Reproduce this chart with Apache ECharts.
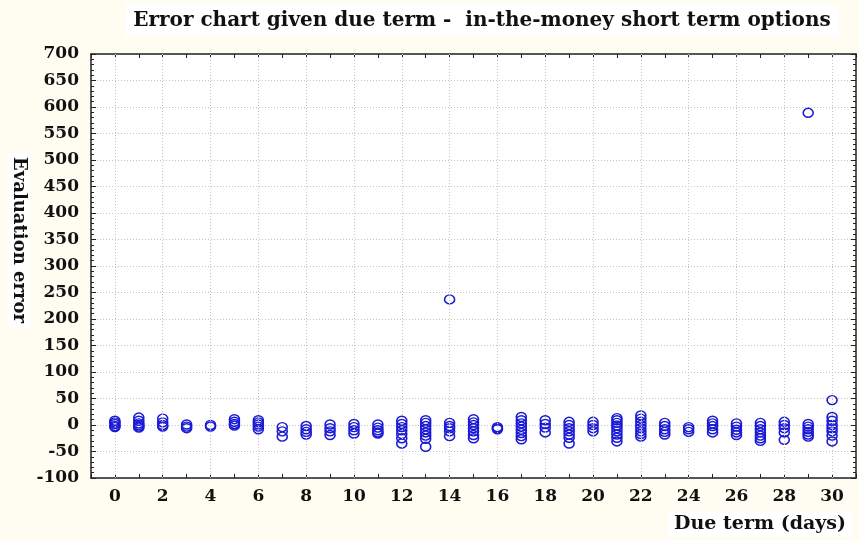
<!DOCTYPE html>
<html>
<head>
<meta charset="utf-8">
<script src="https://cdn.jsdelivr.net/npm/echarts@6/dist/echarts.min.js"></script>
<style>
html,body{margin:0;padding:0;background:#fffcf2;}
#chart{width:859px;height:540px;}
</style>
</head>
<body>
<div id="chart"></div>
<script>
var titleText = 'Error chart given due term -  in-the-money short term options';
var xName = 'Due term (days)';
var yName = 'Evaluation error';
var days = [0,1,2,3,4,5,6,7,8,9,10,11,12,13,14,15,16,17,18,19,20,21,22,23,24,25,26,27,28,29,30];
var errorsByDay = [
  [8, 5, 2, -2, -4],
  [14, 8, 3, 0, -3, -5],
  [12, 5, 0, -3],
  [1, -3, -6],
  [0, -3],
  [11, 6, 2, -1],
  [9, 5, 1, -3, -8],
  [-4, -12, -22],
  [-2, -8, -13, -18],
  [1, -6, -12, -19],
  [2, -4, -10, -16],
  [1, -5, -10, -14, -16],
  [8, 2, -4, -10, -17, -25, -35],
  [9, 4, -2, -8, -14, -20, -26, -41],
  [237, 4, -2, -6, -12, -21],
  [11, 5, 0, -6, -12, -19, -25],
  [-4, -6, -8],
  [15, 9, 3, -3, -9, -15, -21, -27],
  [9, 2, -5, -14],
  [6, 0, -6, -12, -18, -24, -35],
  [6, 0, -6, -12],
  [13, 9, 4, -1, -6, -12, -18, -24, -31],
  [18, 12, 6, 0, -6, -12, -17, -22],
  [4, -2, -8, -13, -18],
  [-4, -8, -13],
  [8, 3, -2, -8, -14],
  [3, -3, -9, -14, -19],
  [4, -2, -8, -14, -20, -25, -30],
  [6, 0, -6, -14, -28],
  [589, 2, -3, -8, -13, -18, -22],
  [47, 15, 8, 0, -6, -12, -20, -31]
];
var xGridDays = [0,2,4,6,8,10,12,14,16,18,20,22,24,26,28,30];

var points = [];
days.forEach(function(d, i){
  errorsByDay[i].forEach(function(v){ points.push([d, v]); });
});

var serif = 'DejaVu Serif';
var chart = echarts.init(document.getElementById('chart'), null, {renderer:'canvas'});
var axisLineStyle = {color:'#222', width:1.5};
chart.setOption({
  backgroundColor:'#fffcf2',
  animation:false,
  title:{
    text:titleText,
    left:474, top:5, textAlign:'center',
    backgroundColor:'#ffffff',
    padding:[6,8,6,8],
    textStyle:{fontFamily:serif, fontWeight:'bold', fontSize:20, color:'#111'}
  },
  grid:{left:91, right:1, top:54, bottom:62, show:true, backgroundColor:'#ffffff', borderWidth:0},
  xAxis:[{
    type:'value', min:-1, max:31, interval:1,
    axisLine:{show:true, onZero:false, lineStyle:axisLineStyle},
    axisTick:{show:true, inside:true, length:4, lineStyle:{color:'#222'}},
    axisLabel:{
      margin:10, color:'#111', fontFamily:serif, fontWeight:'bold', fontSize:17,
      formatter:function(v){ return (v>=0 && v<=30 && v%2===0) ? String(v) : ''; }
    },
    splitLine:{show:false}
  },{
    type:'value', position:'top', min:-1, max:31, interval:1,
    axisLine:{show:true, onZero:false, lineStyle:axisLineStyle},
    axisTick:{show:true, inside:true, length:4, lineStyle:{color:'#222'}},
    axisLabel:{show:false}, splitLine:{show:false}
  }],
  yAxis:[{
    type:'value', min:-100, max:700, interval:50,
    axisLine:{show:true, onZero:false, lineStyle:axisLineStyle},
    axisTick:{show:true, inside:true, length:5, lineStyle:{color:'#222'}},
    minorTick:{show:true, splitNumber:5, length:3, lineStyle:{color:'#222'}},
    axisLabel:{margin:12, color:'#111', fontFamily:serif, fontWeight:'bold', fontSize:17},
    splitLine:{show:true, lineStyle:{color:'#c4c4c4', type:[1,2], width:1}}
  },{
    type:'value', position:'right', min:-100, max:700, interval:50,
    axisLine:{show:true, onZero:false, lineStyle:axisLineStyle},
    axisTick:{show:true, inside:true, length:5, lineStyle:{color:'#222'}},
    minorTick:{show:true, splitNumber:5, length:3, lineStyle:{color:'#222'}},
    axisLabel:{show:false}, splitLine:{show:false}
  }],
  graphic:[{
    type:'text', x:19, y:240, rotation:-Math.PI/2,
    style:{text:yName, fontFamily:serif, fontWeight:'bold', fontSize:18, fill:'#111',
      align:'center', verticalAlign:'middle', backgroundColor:'#ffffff', padding:[2,4]}
  },{
    type:'text', x:760, y:524,
    style:{text:xName, fontFamily:serif, fontWeight:'bold', fontSize:19, fill:'#111',
      align:'center', verticalAlign:'middle', backgroundColor:'#ffffff', padding:[3,6]}
  }],
  series:[{
    type:'scatter', data:[], z:1, silent:true,
    markLine:{
      silent:true, symbol:'none', label:{show:false},
      lineStyle:{color:'#c4c4c4', type:[1,2], width:1},
      data: xGridDays.map(function(d){ return {xAxis:d}; })
    }
  },{
    type:'scatter', z:3,
    data:points,
    symbol:'circle', symbolSize:[10,9],
    itemStyle:{color:'rgba(0,0,0,0)', borderColor:'#1a1ad6', borderWidth:1.5, opacity:1}
  }]
});
</script>
</body>
</html>
